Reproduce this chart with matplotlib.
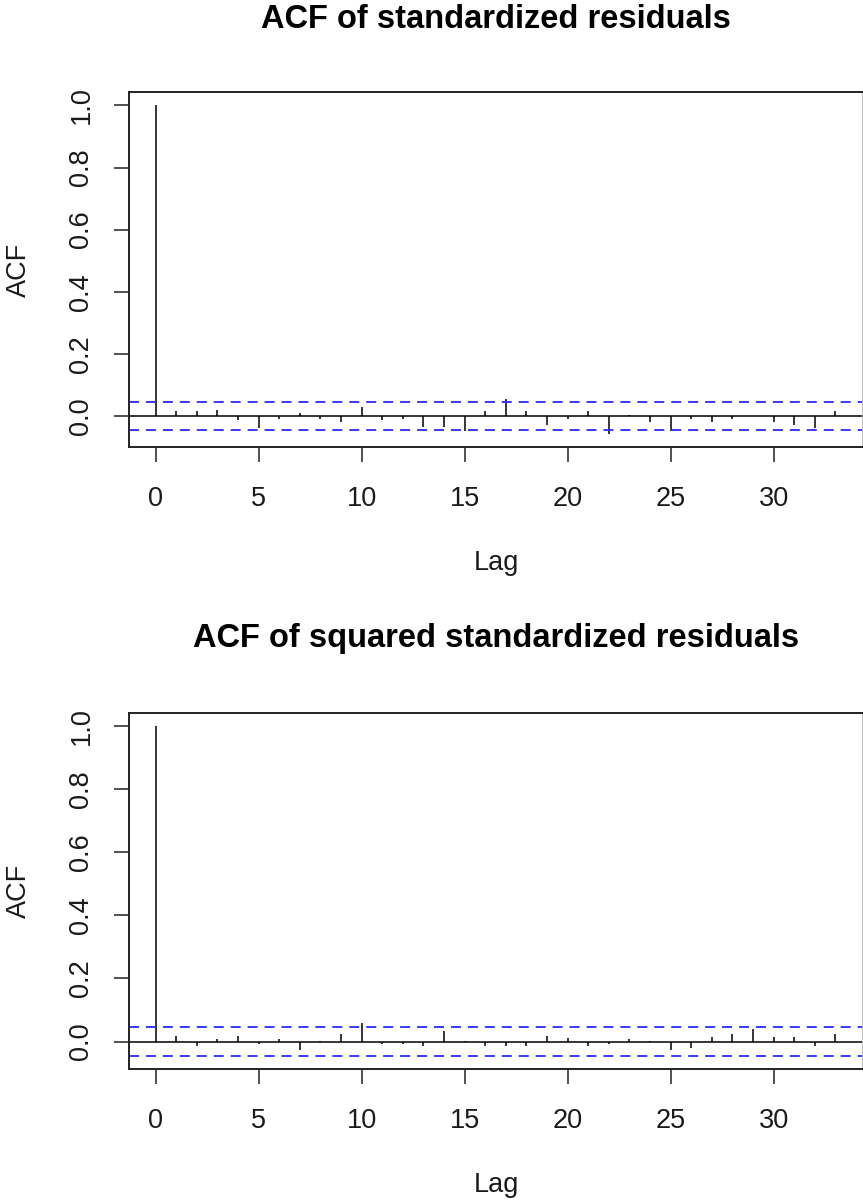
import numpy as np
import matplotlib
matplotlib.use("Agg")
import matplotlib.pyplot as plt

plt.rcParams['font.family'] = ['Liberation Sans', 'DejaVu Sans']
plt.rcParams['lines.scale_dashes'] = False

lags = np.arange(34)

acf_resid = [1.0, 0.015, 0.015, 0.020, -0.014, -0.039, -0.009, 0.009, -0.009, -0.019,
             0.029, -0.014, -0.009, -0.035, -0.035, -0.049, 0.017, 0.054, 0.016, -0.030,
             -0.010, 0.016, -0.057, 0.002, -0.021, -0.048, -0.010, -0.021, -0.010, -0.002,
             -0.021, -0.030, -0.040, 0.016]

acf_sq_resid = [1.0, 0.018, -0.014, 0.007, 0.018, -0.008, 0.007, -0.026, 0.002, 0.024,
                0.060, -0.008, -0.008, -0.014, 0.035, 0.001, -0.014, -0.014, -0.014, 0.018,
                0.011, -0.014, -0.008, 0.007, 0.001, -0.026, -0.021, 0.013, 0.023, 0.040,
                0.013, 0.013, -0.014, 0.023]

conf_bound = 0.045

titles = ["ACF of standardized residuals", "ACF of squared standardized residuals"]

W, H = 863, 1204
fig = plt.figure(figsize=(W / 100, H / 100), dpi=100)

def px_axes(left, top, right, bottom):
    return fig.add_axes([left / W, 1 - bottom / H, (right - left) / W, (bottom - top) / H])

# (box top, box bottom, title y, "Lag" y) in pixels
panels = [(92.3, 446.7, 20, 563),
          (712.7, 1069.0, 638, 1185)]

for vals, title, (top, bottom, ty, ly) in zip([acf_resid, acf_sq_resid], titles, panels):
    ax = px_axes(128.5, top, 862.6, bottom)
    vals = np.asarray(vals)

    ax.vlines(lags, 0, vals, color='black', lw=1.1)
    ax.axhline(0, color='black', lw=1.1)
    for c in (conf_bound, -conf_bound):
        ax.axhline(c, color='#2a2aff', lw=1.3, linestyle=(0, (7.2, 5.0)))

    # R-style limits: 4% padding around the data range
    lo = min(-conf_bound, vals.min())
    hi = max(conf_bound, vals.max())
    pad = 0.04 * (hi - lo)
    ax.set_ylim(lo - pad, hi + pad)
    xpad = 0.04 * (lags.max() - lags.min())
    ax.set_xlim(lags.min() - xpad, lags.max() + xpad)

    ax.set_xticks(np.arange(0, 35, 5))
    ax.set_yticks(np.arange(0, 1.01, 0.2))
    ax.set_yticklabels([f"{v:.1f}" for v in np.arange(0, 1.01, 0.2)],
                       rotation=90, va='center')
    ax.tick_params(axis='both', length=10.5, width=1.1, color='#222222',
                   labelsize=19.5, labelcolor='#1a1a1a')
    ax.tick_params(axis='x', pad=17.5)
    ax.tick_params(axis='y', pad=14)
    for s in ax.spines.values():
        s.set_linewidth(1.4)
        s.set_color('#222222')
    ax.spines['right'].set_color('#bbbbbb')

    cx = (128.5 + 863.7) / 2 / W
    fig.text(cx, 1 - ty / H, title, ha='center', va='center',
             fontsize=23.5, fontweight='bold', color='black')
    fig.text(cx, 1 - ly / H, "Lag", ha='center', va='center',
             fontsize=19.5, color='#1a1a1a')
    fig.text(19 / W, 1 - (top + bottom) / 2 / H, "ACF", ha='center', va='center',
             rotation=90, fontsize=19.5, color='#1a1a1a')

fig.savefig("out.png", dpi=100)
